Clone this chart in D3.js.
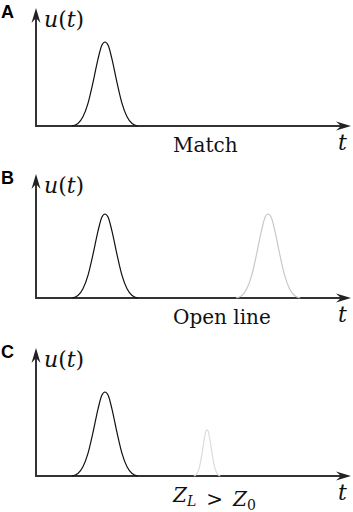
<!DOCTYPE html>
<html>
<head>
<meta charset="utf-8">
<script src="https://cdn.jsdelivr.net/npm/d3@7"></script>
<style>
  body { margin: 0; background: #fff; }
  .math { font-family: "DejaVu Serif", serif; font-style: italic; fill: #111; }
  .caption { font-family: "DejaVu Serif", serif; fill: #111; }
  .panel { font-family: "Liberation Sans", Arial, sans-serif; font-weight: bold; fill: #000; }
  .axis { stroke: #333; stroke-width: 2; }
</style>
</head>
<body>
<svg width="353" height="512"></svg>
<script>
// panels and captions
var panels = ["A", "B", "C"];
var captions = ["Match", "Open line", "Z_L > Z_0"];

// time axis runs 0..10
var tMax = 10;

// incident pulse (same in every panel)
var incidentCenter = [2.19, 2.19, 2.19];
var incidentAmp = [1, 1, 1];
var incidentWidth = [1, 1, 1];

// reflected pulse (none for a matched line)
var reflectedCenter = [null, 7.37, 5.43];
var reflectedAmp = [0, 1, 0.55];
var reflectedWidth = [0, 0.97, 0.4];

// pulse profile (offset from centre, relative height)
var pulseOffsets = [-1.05, -0.86, -0.7, -0.54, -0.38, -0.22, -0.1, 0, 0.1, 0.22, 0.38, 0.54, 0.7, 0.86, 1.05];
var pulseShape = [0, 0.03, 0.11, 0.27, 0.52, 0.8, 0.96, 1, 0.96, 0.8, 0.52, 0.27, 0.11, 0.03, 0];

var svg = d3.select("svg");

var panelTop = [8, 174, 348];
var panelAxis = [126, 298, 476];
var peakPx = 84;

var x = d3.scaleLinear().domain([0, tMax]).range([36, 351]);

var line = d3.line()
  .x(function(d) { return x(d.t); })
  .y(function(d) { return d.y; })
  .curve(d3.curveMonotoneX);

function arrow(g, px, py, angle) {
  g.append("path")
    .attr("d", "M0,0L-15,-4.5L-10,0L-15,4.5Z")
    .attr("fill", "#222")
    .attr("transform", "translate(" + px + "," + py + ") rotate(" + angle + ")");
}

function pulse(center, amp, width, y) {
  return pulseOffsets.map(function(o, i) {
    return { t: center + o * width, y: y(amp * pulseShape[i]) };
  });
}

panels.forEach(function(name, i) {
  var g = svg.append("g");
  var y = d3.scaleLinear().domain([0, 1]).range([panelAxis[i], panelAxis[i] - peakPx]);
  var uMax = y.invert(panelTop[i]);

  // axes
  g.append("line").attr("class", "axis")
    .attr("x1", x(0)).attr("x2", x(0))
    .attr("y1", y(0) + 1).attr("y2", y(uMax) + 6);
  arrow(g, x(0), y(uMax), -90);

  g.append("line").attr("class", "axis")
    .attr("x1", x(0) - 1).attr("x2", x(tMax) - 6)
    .attr("y1", y(0)).attr("y2", y(0));
  arrow(g, x(tMax), y(0), 0);

  // reflected pulse first, incident on top
  if (reflectedCenter[i] != null) {
    g.append("path")
      .attr("d", line(pulse(reflectedCenter[i], reflectedAmp[i], reflectedWidth[i], y)))
      .attr("fill", "none")
      .attr("stroke", i == 1 ? "#c8c8c8" : "#dcdcdc")
      .attr("stroke-width", 1.2);
  }
  g.append("path")
    .attr("d", line(pulse(incidentCenter[i], incidentAmp[i], incidentWidth[i], y)))
    .attr("fill", "none")
    .attr("stroke", "#111")
    .attr("stroke-width", 1.2);

  // labels
  g.append("text").attr("class", "panel")
    .attr("x", 1).attr("y", panelTop[i] + 10)
    .attr("font-size", 18)
    .text(name);

  var ut = g.append("text").attr("class", "math")
    .attr("x", 44).attr("y", panelTop[i] + 19)
    .attr("font-size", 22);
  ut.append("tspan").text("u");
  ut.append("tspan").attr("font-style", "normal").text("(");
  ut.append("tspan").text("t");
  ut.append("tspan").attr("font-style", "normal").text(")");

  g.append("text").attr("class", "math")
    .attr("x", 338).attr("y", y(0) + 24)
    .attr("font-size", 22)
    .text("t");

  var cap = captions[i];
  if (cap.indexOf("_") < 0) {
    g.append("text").attr("class", "caption")
      .attr("x", 173).attr("y", y(0) + 26)
      .attr("font-size", 20)
      .text(cap);
  } else {
    var t = g.append("text").attr("class", "math")
      .attr("x", 173).attr("y", y(0) + 26)
      .attr("font-size", 20);
    var parts = cap.split(" ");
    parts.forEach(function(p, k) {
      if (p.indexOf("_") >= 0) {
        var bits = p.split("_");
        t.append("tspan").attr("dx", k ? 10 : 0).text(bits[0]);
        t.append("tspan").attr("font-size", 14)
          .attr("font-style", bits[1] == "0" ? "normal" : "italic")
          .attr("dy", 4).text(bits[1]);
        t.append("tspan").attr("dy", -4).text("");
      } else {
        t.append("tspan").attr("dx", 10).attr("font-style", "normal").text(p);
      }
    });
  }
});
</script>
</body>
</html>
